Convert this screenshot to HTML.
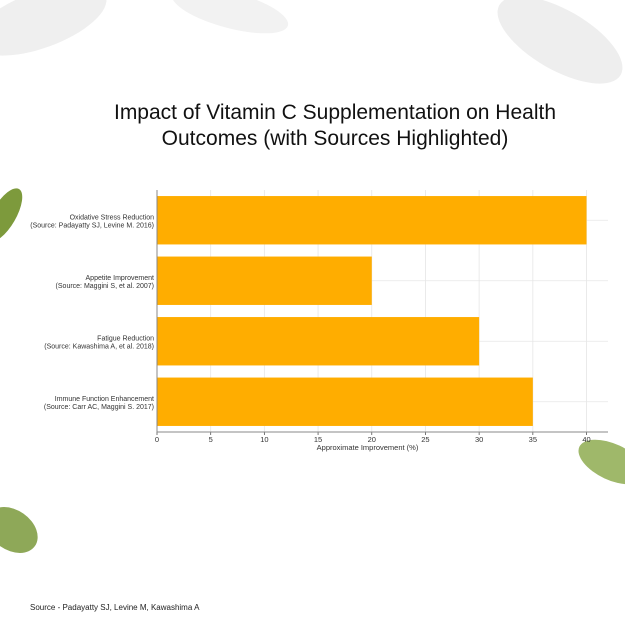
<!DOCTYPE html>
<html><head><meta charset="utf-8"><style>
body{margin:0;background:#fff;}
#wrap{position:relative;width:625px;height:625px;overflow:hidden;background:#fff;font-family:"Liberation Sans","DejaVu Sans",sans-serif;}
.t{position:absolute;left:0;width:670px;text-align:center;font-size:21px;color:#111;}
</style></head><body>
<div id="wrap">
<svg width="625" height="625" style="position:absolute;left:0;top:0">
 <ellipse cx="40" cy="20" rx="70" ry="28" fill="#efefef" transform="rotate(-20 40 20)"/>
 <ellipse cx="230" cy="10" rx="60" ry="18" fill="#f2f2f2" transform="rotate(15 230 10)"/>
 <ellipse cx="560" cy="40" rx="70" ry="30" fill="#eeeeee" transform="rotate(30 560 40)"/>
 <ellipse cx="4" cy="215" rx="12" ry="30" fill="#7d9a3c" transform="rotate(30 4 215)"/>
 <ellipse cx="612" cy="462" rx="36" ry="18" fill="#9fb86a" transform="rotate(25 612 462)"/>
 <ellipse cx="12" cy="530" rx="28" ry="20" fill="#8ea858" transform="rotate(35 12 530)"/>
</svg>
<div class="t" style="top:101px">Impact of Vitamin C Supplementation on Health</div>
<div class="t" style="top:127px">Outcomes (with Sources Highlighted)</div>
<svg id="chart" width="625" height="625" style="position:absolute;left:0;top:0"></svg>
<div style="position:absolute;left:30px;top:603px;font-size:8px;color:#222">Source - Padayatty SJ, Levine M, Kawashima A</div>
</div>
<script>
const categories=["Oxidative Stress Reduction","Appetite Improvement","Fatigue Reduction","Immune Function Enhancement"];
const sources=["(Source: Padayatty SJ, Levine M. 2016)","(Source: Maggini S, et al. 2007)","(Source: Kawashima A, et al. 2018)","(Source: Carr AC, Maggini S. 2017)"];
const values=[40,20,30,35];
const ticks=[0,5,10,15,20,25,30,35,40];
const NS="http://www.w3.org/2000/svg";
const svg=document.getElementById('chart');
const L=157,R=608,T=190,B=432,xmax=42;
const x=v=>L+v/xmax*(R-L);
const step=(B-T)/categories.length;
const yc=i=>T+step*(i+0.5);
function mk(t,a){const e=document.createElementNS(NS,t);for(const k in a)e.setAttribute(k,a[k]);svg.appendChild(e);return e;}
ticks.forEach(v=>{
 const g=mk('line',{x1:x(v),x2:x(v),y1:T,y2:B,stroke:'#e6e6e6','stroke-width':0.8});
 
 
 const tk=mk('line',{x1:x(v),x2:x(v),y1:B,y2:B+3,stroke:'#555','stroke-width':0.8});
 
 
 const tl=mk('text',{x:x(v),y:B+10,'font-size':7.5,'text-anchor':'middle',fill:'#333'});
 tl.textContent=v;
 
 
});
categories.forEach((c,i)=>{
 const gl=mk('line',{x1:L,x2:R,y1:yc(i),y2:yc(i),stroke:'#e6e6e6','stroke-width':0.8});
 
 
 const bh=step*0.8;
 const b=mk('rect',{x:L,y:yc(i)-bh/2,width:x(values[i])-L,height:bh,fill:'#ffad00'});
 
 
 const t1=mk('text',{x:L-3,y:yc(i)-1,'font-size':7,'text-anchor':'end',fill:'#333'});
 t1.textContent=c;
 
 
 const t2=mk('text',{x:L-3,y:yc(i)+7,'font-size':7,'text-anchor':'end',fill:'#333'});
 t2.textContent=sources[i];
 
 
});
const ax=mk('line',{x1:L,x2:R,y1:B,y2:B,stroke:'#888','stroke-width':1});


const ay=mk('line',{x1:L,x2:L,y1:T,y2:B,stroke:'#888','stroke-width':1});


const xt=mk('text',{x:(L+R)/2-15,y:B+18,'font-size':7.5,'text-anchor':'middle',fill:'#333'});
xt.textContent='Approximate Improvement (%)';


</script>
</body></html>
